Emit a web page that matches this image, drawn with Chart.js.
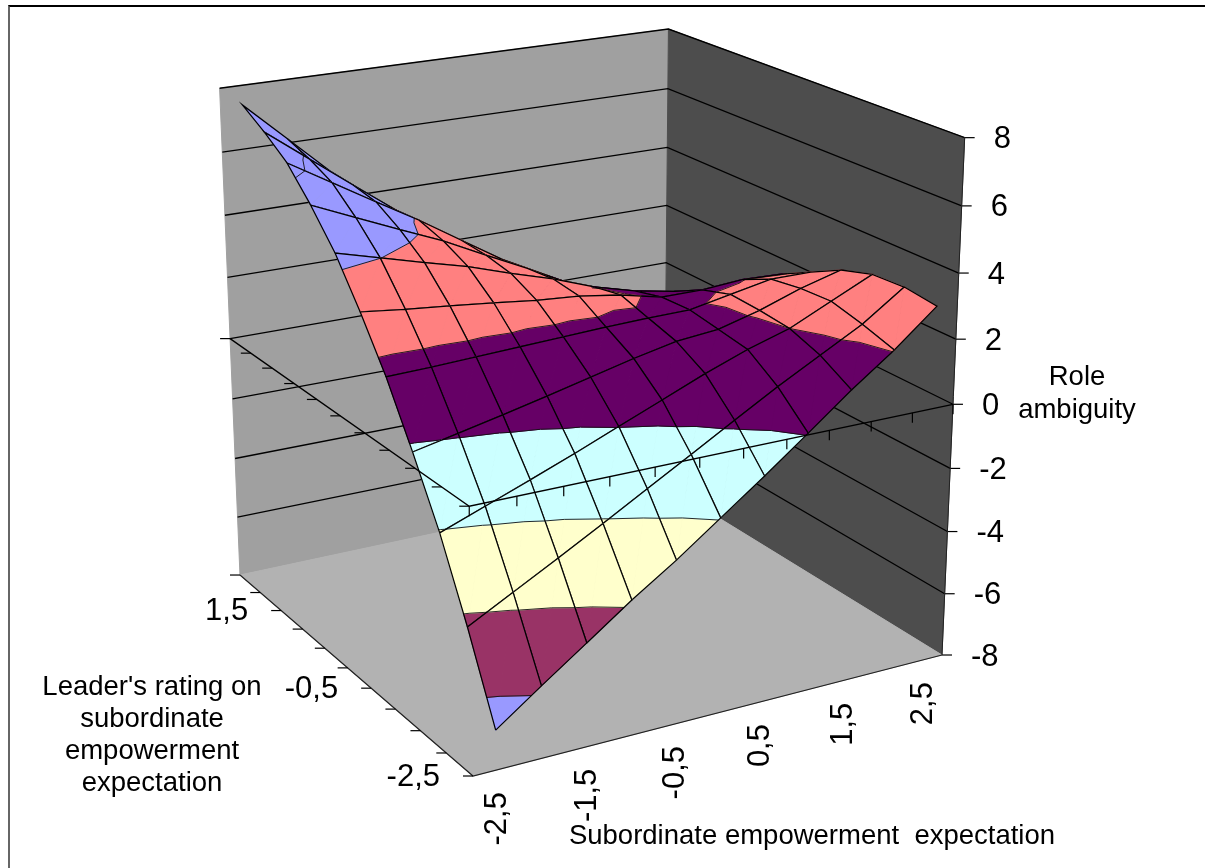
<!DOCTYPE html>
<html>
<head>
<meta charset="utf-8">
<title>Role ambiguity</title>
<script src="https://cdn.jsdelivr.net/npm/chart.js@4/dist/chart.umd.min.js"></script>
<style>
html, body { margin: 0; padding: 0; background: #fff; }
#wrap { position: relative; width: 1205px; height: 868px; overflow: hidden; }
#frame { position: absolute; left: 8px; top: 5px; width: 1197px; height: 863px; border-left: 2px solid #666; border-top: 2px solid #000; box-sizing: border-box; }
canvas { display: block; }
</style>
</head>
<body>
<div id="wrap">
<canvas id="surfaceChart" width="1205" height="868"></canvas>
<div id="frame"></div>
</div>
<script>
const subordinateCategories = ["-2,5","-2","-1,5","-1","-0,5","0","0,5","1","1,5","2","2,5"];
const leaderCategories = ["-2,5","-2","-1,5","-1","-0,5","0","0,5","1","1,5","2","2,5"];
const zTicks = [-8,-6,-4,-2,0,2,4,6,8];
const bandColors = ["#9999FF","#993366","#FFFFCC","#CCFFFF","#660066","#FF8080","#9999FF","#9999FF"];

// one row per leader rating, one column per subordinate expectation
const roleAmbiguity = [
    [-6.78,-5.78,-4.81,-3.83,-2.93,-1.95,-0.97,0.05,1.09,2.04,3.12],
    [-4.31,-3.58,-2.85,-2.10,-1.34,-0.58,0.19,0.95,1.65,2.35,3.25],
    [-2.07,-1.56,-1.05,-0.53,0.02,0.56,1.11,1.60,2.00,2.60,3.20],
    [-0.19,0.10,0.39,0.70,1.02,1.34,1.62,1.75,2.10,2.55,2.90],
    [1.56,1.60,1.66,1.72,1.78,1.84,1.88,1.90,2.15,2.40,2.40],
    [3.04,2.88,2.75,2.61,2.45,2.35,2.15,1.85,1.85,1.95,1.90],
    [4.38,4.01,3.64,3.29,2.85,2.45,1.96,1.60,1.35,1.10,0.85],
    [5.42,4.83,4.24,3.67,3.00,2.35,1.65,1.15,0.70,0.20,-0.30],
    [6.32,5.51,4.70,3.91,3.05,2.20,1.40,0.65,-0.05,-0.80,-1.50],
    [6.90,5.87,4.84,3.83,2.83,1.75,0.75,-0.20,-1.15,-2.10,-3.05],
    [7.39,6.14,4.89,3.66,2.44,1.22,0.02,-1.17,-2.36,-3.54,-4.71]
];

// camera of the 3D box: u along subordinate axis, v along leader axis, w up (all 0..1)
function project(u, v, w){
    let q = 1 + 0.0893 * u + 0.1643 * v - 0.065 * w;
    return {
        x: (473 + 553.1 * u - 193.6 * v - 38 * w) / q,
        y: (776 - 62.5 * u - 106.5 * v - 572.5 * w) / q
    };
}

function zToW(z){
    return (z + 8) / 16;
}

let layers = [];

function polygon(pts, color){
    layers.push({
        data: pts.concat([pts[0]]),
        showLine: true,
        fill: "shape",
        backgroundColor: color,
        borderColor: color,
        borderWidth: 1,
        pointRadius: 0,
        tension: 0
    });
}

function polyline(pts, color, width){
    layers.push({
        data: pts,
        showLine: true,
        fill: false,
        borderColor: color,
        borderWidth: width,
        pointRadius: 0,
        tension: 0
    });
}

function tick(p, dx, dy){
    polyline([p, {x: p.x + dx, y: p.y + dy}], "#000", 1.2);
}

// walls and floor
polygon([project(0,1,0), project(1,1,0), project(1,1,1), project(0,1,1)], "#A0A0A0");
polygon([project(1,0,0), project(1,1,0), project(1,1,1), project(1,0,1)], "#4D4D4D");
polygon([project(0,0,0), project(1,0,0), project(1,1,0), project(0,1,0)], "#B2B2B2");

zTicks.forEach(z => {
    let w = zToW(z);
    if(z > -8){
        polyline([project(0,1,w), project(1,1,w), project(1,0,w)], "#000", 1.3);
    }
    tick(project(1,0,w), 10, 0);
});
polyline([project(0,1,0), project(0,0,0), project(1,0,0)], "#222", 1.2);
polyline([project(1,0,0), project(1,0,1)], "#222", 1);

// surface, far cells first
function node(i, j){
    return {u: (i + 0.5) / subordinateCategories.length, v: j / (leaderCategories.length - 1), z: roleAmbiguity[j][i]};
}

function toScreen(p){
    return project(p.u, p.v, zToW(p.z));
}

function mix(a, b, level){
    let f = (level - a.z) / (b.z - a.z);
    return {u: a.u + (b.u - a.u) * f, v: a.v + (b.v - a.v) * f, z: level};
}

function clipAbove(poly, level, keepAbove){
    let out = [];
    poly.forEach((p, n) => {
        let q = poly[(n + 1) % poly.length];
        let pIn = keepAbove ? p.z >= level : p.z <= level;
        let qIn = keepAbove ? q.z >= level : q.z <= level;
        if(pIn) out.push(p);
        if(pIn !== qIn) out.push(mix(p, q, level));
    });
    return out;
}

function drawTriangle(tri){
    bandColors.forEach((color, b) => {
        let part = clipAbove(tri, zTicks[b], true);
        if(part.length) part = clipAbove(part, zTicks[b + 1], false);
        if(part.length > 2) polygon(part.map(toScreen), color);
    });
}

function drawContours(tri){
    zTicks.forEach(level => {
        let hits = [];
        tri.forEach((p, n) => {
            let q = tri[(n + 1) % 3];
            if((p.z < level) !== (q.z < level)) hits.push(mix(p, q, level));
        });
        if(hits.length === 2) polyline(hits.map(toScreen), "#111", 0.9);
    });
}

let cells = [];
for(let j = 0; j < roleAmbiguity.length - 1; j++){
    for(let i = 0; i < subordinateCategories.length - 1; i++){
        let a = node(i, j), b = node(i + 1, j), c = node(i + 1, j + 1), d = node(i, j + 1);
        let zMid = (a.z + b.z + c.z + d.z) / 4;
        let uMid = (a.u + b.u) / 2;
        let vMid = (a.v + d.v) / 2;
        cells.push({a, b, c, d, depth: 0.0893 * uMid + 0.1643 * vMid - 0.065 * zToW(zMid)});
    }
}
cells.sort((p, q) => q.depth - p.depth);

cells.forEach(cell => {
    let t1 = [cell.a, cell.b, cell.c];
    let t2 = [cell.a, cell.c, cell.d];
    drawTriangle(t1);
    drawTriangle(t2);
    drawContours(t1);
    drawContours(t2);
    polyline([cell.a, cell.b, cell.c, cell.d, cell.a].map(toScreen), "#000", 1.25);
});

// axes lying in the z = 0 plane, and their ticks
polyline([project(0,1,0.5), project(0,0,0.5), project(1,0,0.5)], "#000", 1.3);
subordinateCategories.concat([""]).forEach((c, k) => {
    tick(project(k / subordinateCategories.length, 0, 0.5), 0, 10);
});
leaderCategories.forEach((c, k) => {
    let v = k / (leaderCategories.length - 1);
    tick(project(0, v, 0.5), -10, 0);
    tick(project(0, v, 0), -10, 0);
});

const textPlugin = {
    id: "boxText",
    afterDraw(chart){
        let ctx = chart.ctx;
        let sx = chart.scales.x, sy = chart.scales.y;
        ctx.save();
        ctx.fillStyle = "#000";
        ctx.textBaseline = "middle";

        ctx.font = "31px 'Liberation Sans'";
        ctx.textAlign = "left";
        zTicks.forEach(z => {
            let p = project(1, 0, zToW(z));
            ctx.fillText(String(z), sx.getPixelForValue(p.x) + 29, sy.getPixelForValue(p.y) + 2);
        });

        ctx.textAlign = "right";
        leaderCategories.forEach((label, k) => {
            if(k % 4 !== 0) return;
            let p = project(0, k / (leaderCategories.length - 1), 0);
            ctx.fillText(label, sx.getPixelForValue(p.x) - 33, sy.getPixelForValue(p.y) + 1);
        });

        subordinateCategories.forEach((label, k) => {
            if(k % 2 !== 0) return;
            let p = project((k + 0.5) / subordinateCategories.length, 0, 0);
            ctx.save();
            ctx.translate(sx.getPixelForValue(p.x) + 1, sy.getPixelForValue(p.y) + 22);
            ctx.rotate(-Math.PI / 2);
            ctx.fillText(label, 0, 0);
            ctx.restore();
        });

        ctx.font = "27.5px 'Liberation Sans'";
        ctx.textAlign = "center";
        ["Leader's rating on", "subordinate", "empowerment", "expectation"].forEach((line, n) => {
            ctx.fillText(line, sx.getPixelForValue(152), sy.getPixelForValue(687.5 + n * 32));
        });
        ["Role", "ambiguity"].forEach((line, n) => {
            ctx.fillText(line, sx.getPixelForValue(1077), sy.getPixelForValue(377 + n * 33));
        });
        ctx.fillText("Subordinate empowerment  expectation", sx.getPixelForValue(812), sy.getPixelForValue(836));
        ctx.restore();
    }
};

new Chart(document.getElementById("surfaceChart"), {
    type: "scatter",
    data: {datasets: layers.reverse()},
    options: {
        responsive: false,
        animation: false,
        devicePixelRatio: 1,
        layout: {padding: 0},
        plugins: {legend: {display: false}, tooltip: {enabled: false}},
        scales: {
            x: {type: "linear", display: false, min: 0, max: 1205},
            y: {type: "linear", display: false, min: 0, max: 868, reverse: true}
        }
    },
    plugins: [textPlugin]
});
</script>
</body>
</html>
